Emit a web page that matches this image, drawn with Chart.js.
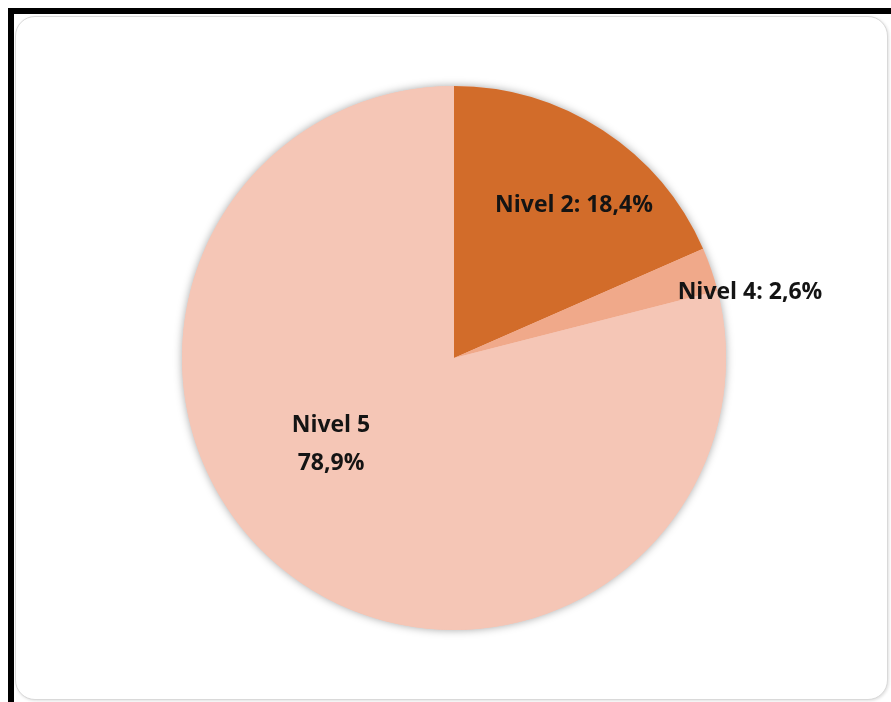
<!DOCTYPE html>
<html>
<head>
<meta charset="utf-8">
<script src="https://cdn.jsdelivr.net/npm/chart.js@4.4.1/dist/chart.umd.min.js"></script>
<style>
  html, body { margin: 0; padding: 0; background: #fff; }
  body { width: 891px; height: 702px; position: relative; overflow: hidden; }
  .frame {
    position: absolute; left: 8px; top: 8px; width: 900px; height: 720px;
    border-left: 6px solid #000; border-top: 6px solid #000;
  }
  .card {
    position: absolute; left: 15px; top: 16px; width: 871px; height: 682px;
    border: 1px solid #d9d9d9; border-radius: 20px; background: #fff;
    box-shadow: 1px 1px 3px rgba(0,0,0,0.12);
  }
  #pieChart { position: absolute; left: 0; top: 0; }
</style>
</head>
<body>
<div class="frame"></div>
<div class="card"></div>
<canvas id="pieChart" width="891" height="702"></canvas>
<script>
const categories = ['Nivel 2', 'Nivel 4', 'Nivel 5'];
const shares = [18.4, 2.6, 78.9];
const sliceColors = ['#D26C2A', '#F0A98A', '#F5C6B6'];

// where each label sits, relative to the pie centre
const labelOffsets = [
    { dx: 120, dy: -153 },
    { dx: 296, dy: -66 },
    { dx: -123, dy: 86 }
];

function fmt(v) {
    return v.toFixed(1).replace('.', ',') + '%';
}

// soft grey shadow under the whole pie
const pieShadow = {
    id: 'pieShadow',
    beforeDatasetsDraw(chart) {
        const arc = chart.getDatasetMeta(0).data[0];
        if (!arc) return;
        const ctx = chart.ctx;
        ctx.save();
        ctx.shadowColor = 'rgba(0,0,0,0.35)';
        ctx.shadowBlur = 9;
        ctx.beginPath();
        ctx.arc(arc.x, arc.y, arc.outerRadius, 0, Math.PI * 2);
        ctx.fillStyle = sliceColors[2];
        ctx.fill();
        ctx.restore();
    }
};

const sliceLabels = {
    id: 'sliceLabels',
    afterDatasetsDraw(chart) {
        const ctx = chart.ctx;
        const arcs = chart.getDatasetMeta(0).data;
        ctx.save();
        ctx.font = 'bold 23px "Open Sans"';
        ctx.fillStyle = '#141414';
        ctx.textAlign = 'center';
        ctx.textBaseline = 'middle';
        arcs.forEach((arc, i) => {
            const x = arc.x + labelOffsets[i].dx;
            const y = arc.y + labelOffsets[i].dy;
            const value = chart.data.datasets[0].data[i];
            if (i === 2) {
                ctx.fillText(categories[i], x, y - 19);
                ctx.fillText(fmt(value), x, y + 19);
            } else {
                ctx.fillText(categories[i] + ': ' + fmt(value), x, y);
            }
        });
        ctx.restore();
    }
};

const ctx = document.getElementById('pieChart').getContext('2d');
const pieChart = new Chart(ctx, {
    type: 'pie',
    data: {
        labels: categories,
        datasets: [{
            data: shares,
            backgroundColor: sliceColors,
            borderWidth: 0
        }]
    },
    options: {
        responsive: false,
        animation: false,
        layout: {
            padding: { left: 182, right: 165, top: 86, bottom: 72 }
        },
        plugins: {
            legend: { display: false },
            tooltip: { enabled: false }
        }
    },
    plugins: [pieShadow, sliceLabels]
});
</script>
</body>
</html>
